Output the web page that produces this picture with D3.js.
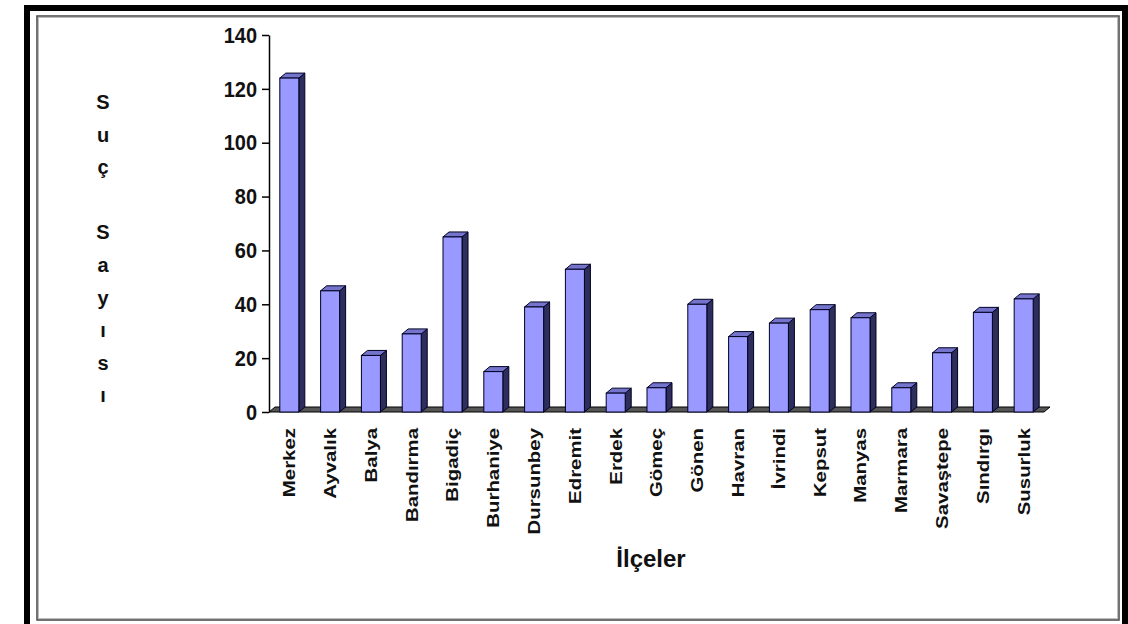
<!DOCTYPE html>
<html>
<head>
<meta charset="utf-8">
<script src="https://cdn.jsdelivr.net/npm/d3@7"></script>
<style>
  body { margin: 0; background: #fff; }
  text { font-family: "Liberation Sans", Arial, sans-serif; fill: #111; }
</style>
</head>
<body>
<div id="chart"></div>
<script>
var districts = ["Merkez", "Ayvalık", "Balya", "Bandırma", "Bigadiç", "Burhaniye", "Dursunbey",
  "Edremit", "Erdek", "Gömeç", "Gönen", "Havran", "İvrindi", "Kepsut", "Manyas", "Marmara",
  "Savaştepe", "Sındırgı", "Susurluk"];
var crimeCounts = [124, 45, 21, 29, 65, 15, 39, 53, 7, 9, 40, 28, 33, 38, 35, 9, 22, 37, 42];
var yTicks = [0, 20, 40, 60, 80, 100, 120, 140];
var yTitle = ["S", "u", "ç", "", "S", "a", "y", "ı", "s", "ı"];
var xTitle = "İlçeler";

var width = 1128, height = 624;
var svg = d3.select("#chart").append("svg").attr("width", width).attr("height", height);

// frames
svg.append("rect").attr("x", 27).attr("y", 8).attr("width", 1098).attr("height", 630)
  .attr("fill", "#fff").attr("stroke", "#000").attr("stroke-width", 6);
svg.append("rect").attr("x", 37).attr("y", 16).attr("width", 1082).attr("height", 604)
  .attr("fill", "none").attr("stroke", "#444").attr("stroke-width", 1.5);
svg.append("rect").attr("x", 38.5).attr("y", 17.5).attr("width", 1079).attr("height", 601)
  .attr("fill", "none").attr("stroke", "#bbb").attr("stroke-width", 1);

var x = d3.scaleBand().domain(districts).range([269, 1044])
  .paddingInner(0.534).paddingOuter(0.265);
var y = d3.scaleLinear().domain([0, 140]).range([412, 35]);
var dx = 6, dy = -5;
var y0 = y(0);

// floor
var fx0 = x.range()[0], fx1 = x.range()[1];
svg.append("polygon")
  .attr("points", [[fx0, y0], [fx1, y0], [fx1 + dx, y0 + dy], [fx0 + dx, y0 + dy]].join(" "))
  .attr("fill", "#555").attr("stroke", "#000").attr("stroke-width", 1);

// y axis
var yAxis = d3.axisLeft(y).tickValues(yTicks).tickSize(7).tickSizeOuter(0).tickPadding(5);
var ga = svg.append("g").attr("transform", "translate(269,0)").call(yAxis);
ga.select(".domain").attr("stroke", "#000").attr("stroke-width", 1.5);
ga.selectAll(".tick line").attr("stroke", "#000").attr("stroke-width", 1.5);
ga.selectAll(".tick text").attr("font-size", 20).attr("font-weight", "bold")
  .attr("font-family", "'Liberation Sans', Arial, sans-serif").attr("fill", "#111")
  .attr("transform", "scale(1,1.12)");

// bars
var bars = svg.selectAll(".bar").data(crimeCounts).enter().append("g").attr("class", "bar");
var bw = x.bandwidth();
bars.append("polygon")
  .attr("points", function(d, i) {
    var bx = x(districts[i]) + bw, by = y(d);
    return [[bx, by], [bx + dx, by + dy], [bx + dx, y0 + dy], [bx, y0]].join(" ");
  })
  .attr("fill", "#2e2e5c").attr("stroke", "#000022").attr("stroke-width", 1);
bars.append("polygon")
  .attr("points", function(d, i) {
    var bx = x(districts[i]), by = y(d);
    return [[bx, by], [bx + dx, by + dy], [bx + bw + dx, by + dy], [bx + bw, by]].join(" ");
  })
  .attr("fill", "#7474cc").attr("stroke", "#000022").attr("stroke-width", 1);
bars.append("rect")
  .attr("x", function(d, i) { return x(districts[i]); })
  .attr("y", function(d) { return y(d); })
  .attr("width", bw)
  .attr("height", function(d) { return y0 - y(d); })
  .attr("fill", "#9999ff").attr("stroke", "#000022").attr("stroke-width", 1);

// category labels
svg.selectAll(".xlab").data(districts).enter().append("text")
  .attr("class", "xlab")
  .attr("transform", function(d) {
    return "translate(" + (x(d) + bw / 2) + ",428) rotate(-90) scale(1.2,1)";
  })
  .attr("text-anchor", "end")
  .attr("dominant-baseline", "central")
  .attr("font-size", 17).attr("font-weight", "bold")
  .text(function(d) { return d; });

// axis titles
svg.append("text").attr("x", 651).attr("y", 567).attr("text-anchor", "middle")
  .attr("font-size", 24).attr("font-weight", "bold").text(xTitle);

svg.selectAll(".ytitle").data(yTitle).enter().append("text")
  .attr("class", "ytitle")
  .attr("x", 103)
  .attr("y", function(d, i) { return 109 + i * 32.6; })
  .attr("text-anchor", "middle")
  .attr("font-size", 20).attr("font-weight", "bold")
  .text(function(d) { return d; });
</script>
</body>
</html>
